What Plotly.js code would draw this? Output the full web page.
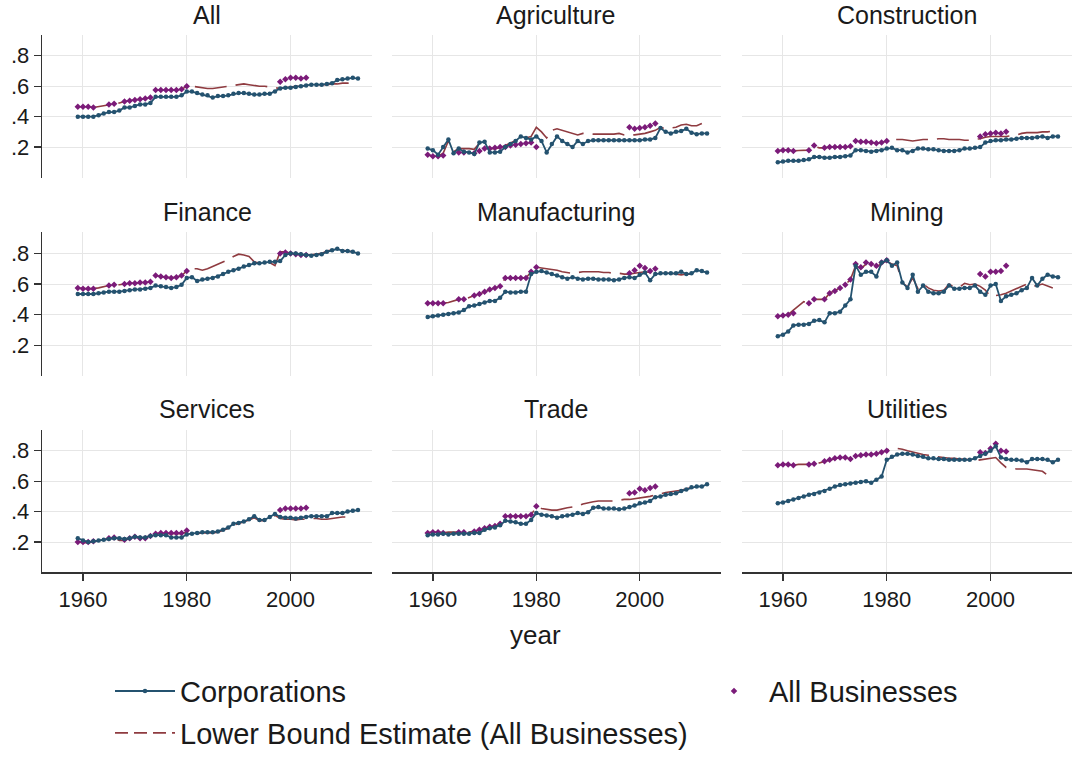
<!DOCTYPE html>
<html>
<head>
<meta charset="utf-8">
<script src="https://cdn.plot.ly/plotly-3.0.1.min.js"></script>
<style>
  html, body { margin: 0; padding: 0; background: #ffffff; }
  #chart { width: 1080px; height: 759px; }
</style>
</head>
<body>
<div id="chart"></div>
<script>
// Year helpers
function span(a, b) { const out = []; for (let y = a; y <= b; y++) out.push(y); return out; }

const sectors = ['All', 'Agriculture', 'Construction', 'Finance', 'Manufacturing', 'Mining', 'Services', 'Trade', 'Utilities'];

// Corporations: 1959-2013
const corpYears = span(1959, 2013);
// Lower bound estimate: 1959-2012
const lbYears = span(1959, 2012);
// All businesses: years with observations
const abYears = [1959, 1960, 1961, 1962, 1965, 1966, 1968, 1969, 1970, 1971, 1972, 1973, 1974, 1975, 1976, 1977, 1978, 1979, 1980, 1998, 1999, 2000, 2001, 2002, 2003];

const corpAll = [0.40,0.40,0.40,0.40,0.41,0.42,0.43,0.43,0.44,0.46,0.46,0.47,0.48,0.48,0.49,0.53,0.53,0.53,0.53,0.53,0.54,0.565,0.565,0.555,0.545,0.54,0.525,0.535,0.535,0.54,0.55,0.555,0.555,0.55,0.545,0.545,0.55,0.55,0.565,0.585,0.59,0.59,0.595,0.60,0.605,0.61,0.61,0.61,0.615,0.62,0.64,0.645,0.65,0.655,0.65];
const corpAgriculture = [0.19,0.18,0.15,0.20,0.25,0.16,0.19,0.17,0.165,0.155,0.23,0.235,0.165,0.165,0.17,0.20,0.22,0.24,0.27,0.26,0.25,0.27,0.24,0.165,0.22,0.27,0.24,0.22,0.20,0.24,0.22,0.24,0.245,0.245,0.245,0.245,0.245,0.245,0.245,0.245,0.245,0.245,0.25,0.25,0.26,0.325,0.30,0.29,0.30,0.305,0.32,0.295,0.285,0.29,0.29];
const corpConstruction = [0.10,0.105,0.11,0.11,0.11,0.115,0.12,0.135,0.135,0.13,0.13,0.135,0.135,0.14,0.145,0.18,0.18,0.175,0.17,0.175,0.18,0.19,0.195,0.18,0.18,0.165,0.175,0.19,0.19,0.185,0.185,0.18,0.175,0.175,0.175,0.18,0.19,0.19,0.195,0.20,0.23,0.24,0.245,0.245,0.25,0.25,0.255,0.26,0.26,0.26,0.265,0.27,0.26,0.27,0.27];
const corpFinance = [0.535,0.535,0.535,0.535,0.54,0.545,0.55,0.55,0.55,0.555,0.56,0.565,0.565,0.57,0.575,0.59,0.585,0.58,0.575,0.58,0.595,0.64,0.645,0.62,0.63,0.635,0.64,0.65,0.665,0.68,0.69,0.70,0.715,0.725,0.735,0.735,0.74,0.745,0.745,0.75,0.79,0.80,0.80,0.795,0.79,0.785,0.79,0.795,0.81,0.82,0.83,0.815,0.815,0.81,0.80];
const corpManufacturing = [0.385,0.39,0.395,0.40,0.405,0.41,0.415,0.43,0.455,0.46,0.47,0.48,0.49,0.49,0.51,0.55,0.545,0.545,0.55,0.55,0.665,0.68,0.685,0.675,0.665,0.655,0.645,0.635,0.645,0.635,0.63,0.635,0.635,0.63,0.63,0.63,0.625,0.63,0.64,0.645,0.64,0.66,0.675,0.625,0.665,0.67,0.67,0.67,0.67,0.68,0.665,0.67,0.69,0.685,0.675];
const corpMining = [0.26,0.27,0.29,0.33,0.335,0.335,0.34,0.36,0.365,0.35,0.41,0.41,0.42,0.46,0.50,0.72,0.66,0.68,0.68,0.65,0.74,0.755,0.72,0.74,0.61,0.575,0.66,0.55,0.59,0.55,0.54,0.54,0.55,0.59,0.57,0.57,0.575,0.575,0.59,0.55,0.53,0.59,0.60,0.49,0.52,0.53,0.54,0.56,0.575,0.64,0.59,0.635,0.66,0.65,0.645];
const corpServices = [0.225,0.21,0.20,0.205,0.21,0.215,0.22,0.225,0.225,0.22,0.225,0.235,0.23,0.23,0.24,0.245,0.245,0.245,0.23,0.23,0.23,0.25,0.255,0.26,0.265,0.265,0.265,0.27,0.28,0.295,0.32,0.325,0.335,0.35,0.37,0.345,0.345,0.365,0.385,0.365,0.36,0.36,0.355,0.36,0.365,0.37,0.37,0.37,0.37,0.39,0.39,0.39,0.40,0.405,0.41];
const corpTrade = [0.245,0.25,0.25,0.255,0.25,0.255,0.255,0.255,0.255,0.26,0.26,0.28,0.29,0.295,0.31,0.34,0.335,0.33,0.32,0.32,0.345,0.39,0.38,0.375,0.37,0.36,0.37,0.375,0.38,0.39,0.385,0.395,0.425,0.43,0.42,0.42,0.42,0.415,0.42,0.43,0.44,0.455,0.46,0.47,0.495,0.50,0.51,0.515,0.52,0.535,0.545,0.56,0.565,0.565,0.58];
const corpUtilities = [0.455,0.46,0.47,0.48,0.49,0.50,0.51,0.515,0.525,0.535,0.55,0.565,0.575,0.58,0.585,0.59,0.595,0.60,0.59,0.61,0.63,0.74,0.76,0.775,0.78,0.78,0.775,0.765,0.76,0.75,0.75,0.745,0.745,0.74,0.74,0.74,0.74,0.74,0.75,0.765,0.78,0.80,0.83,0.755,0.745,0.74,0.74,0.735,0.725,0.745,0.745,0.745,0.74,0.725,0.74];

const lbAll = [0.465,0.465,0.465,0.46,0.465,0.47,0.48,0.485,0.49,0.50,0.505,0.51,0.515,0.52,0.525,0.575,0.575,0.575,0.575,0.575,0.58,0.60,0.60,0.595,0.59,0.585,0.585,0.59,0.595,0.60,0.605,0.61,0.615,0.61,0.605,0.60,0.60,0.595,0.59,0.585,0.59,0.595,0.60,0.60,0.605,0.61,0.61,0.61,0.61,0.615,0.615,0.62,0.62,0.615];
const lbAgriculture = [0.15,0.14,0.14,0.16,0.24,0.17,0.19,0.19,0.19,0.185,0.225,0.23,0.19,0.19,0.195,0.21,0.225,0.24,0.26,0.26,0.27,0.33,0.30,0.26,0.31,0.32,0.31,0.30,0.285,0.28,0.29,0.29,0.285,0.285,0.285,0.285,0.285,0.29,0.28,0.28,0.28,0.285,0.29,0.30,0.31,0.33,0.32,0.325,0.33,0.345,0.35,0.34,0.34,0.355];
const lbConstruction = [0.175,0.18,0.18,0.175,0.178,0.18,0.18,0.205,0.195,0.195,0.20,0.20,0.20,0.20,0.205,0.24,0.235,0.235,0.23,0.225,0.23,0.24,0.25,0.25,0.25,0.245,0.24,0.245,0.25,0.25,0.25,0.255,0.255,0.25,0.25,0.25,0.245,0.245,0.25,0.255,0.265,0.27,0.27,0.27,0.27,0.275,0.28,0.29,0.295,0.295,0.295,0.30,0.30,0.305];
const lbFinance = [0.575,0.57,0.57,0.57,0.575,0.585,0.59,0.595,0.595,0.60,0.605,0.605,0.61,0.61,0.615,0.655,0.65,0.645,0.64,0.645,0.655,0.685,0.70,0.70,0.69,0.70,0.715,0.725,0.74,0.76,0.78,0.795,0.79,0.78,0.745,0.735,0.74,0.74,0.72,0.81,0.81,0.80,0.80,0.79,0.79,0.79,0.795,0.80,0.815,0.825,0.83,0.82,0.815,0.81];
const lbManufacturing = [0.475,0.475,0.475,0.475,0.48,0.49,0.50,0.50,0.515,0.525,0.535,0.55,0.565,0.575,0.585,0.64,0.64,0.64,0.64,0.64,0.68,0.71,0.705,0.70,0.695,0.69,0.68,0.675,0.67,0.675,0.68,0.68,0.68,0.68,0.675,0.675,0.67,0.67,0.665,0.665,0.67,0.675,0.68,0.675,0.68,0.67,0.67,0.67,0.665,0.66,0.665,0.665,0.675,0.68];
const lbMining = [0.39,0.395,0.40,0.43,0.46,0.485,0.475,0.50,0.50,0.50,0.54,0.555,0.575,0.595,0.63,0.72,0.70,0.73,0.72,0.71,0.735,0.75,0.73,0.72,0.61,0.58,0.64,0.57,0.60,0.575,0.56,0.555,0.56,0.60,0.58,0.58,0.605,0.595,0.60,0.585,0.56,0.52,0.525,0.53,0.54,0.555,0.565,0.58,0.60,0.585,0.59,0.60,0.585,0.575];
const lbServices = [0.20,0.195,0.195,0.20,0.21,0.215,0.225,0.23,0.21,0.21,0.225,0.235,0.225,0.225,0.24,0.255,0.255,0.255,0.255,0.255,0.255,0.265,0.25,0.255,0.26,0.26,0.26,0.265,0.275,0.29,0.31,0.32,0.33,0.345,0.36,0.34,0.34,0.355,0.375,0.355,0.35,0.35,0.345,0.35,0.35,0.355,0.355,0.35,0.35,0.355,0.36,0.365,0.365,0.365];
const lbTrade = [0.26,0.265,0.265,0.26,0.265,0.265,0.265,0.265,0.265,0.27,0.28,0.29,0.30,0.305,0.32,0.37,0.37,0.37,0.37,0.37,0.38,0.43,0.42,0.415,0.41,0.41,0.42,0.425,0.43,0.435,0.45,0.46,0.465,0.47,0.47,0.47,0.47,0.475,0.48,0.48,0.485,0.49,0.495,0.50,0.51,0.52,0.525,0.53,0.535,0.54,0.55,0.56,0.565,0.57];
const lbUtilities = [0.705,0.71,0.71,0.705,0.71,0.71,0.71,0.715,0.72,0.73,0.74,0.75,0.755,0.755,0.745,0.765,0.77,0.775,0.775,0.78,0.79,0.80,0.815,0.815,0.81,0.80,0.79,0.78,0.775,0.77,0.765,0.76,0.755,0.75,0.75,0.745,0.745,0.74,0.735,0.74,0.745,0.75,0.755,0.72,0.69,0.685,0.68,0.68,0.68,0.675,0.67,0.665,0.64,0.625];

const abAll = [0.465,0.465,0.465,0.46,0.48,0.485,0.50,0.505,0.51,0.515,0.52,0.525,0.575,0.575,0.575,0.575,0.575,0.58,0.60,0.63,0.645,0.655,0.655,0.65,0.655];
const abAgriculture = [0.15,0.14,0.14,0.145,0.165,0.165,0.16,0.175,0.19,0.19,0.195,0.20,0.20,0.21,0.215,0.22,0.225,0.23,0.20,0.33,0.32,0.325,0.33,0.34,0.355];
const abConstruction = [0.175,0.18,0.18,0.175,0.18,0.21,0.195,0.20,0.20,0.20,0.20,0.205,0.24,0.235,0.235,0.23,0.225,0.23,0.24,0.27,0.285,0.29,0.295,0.29,0.30];
const abFinance = [0.575,0.57,0.57,0.57,0.59,0.595,0.60,0.605,0.605,0.61,0.61,0.615,0.655,0.65,0.645,0.64,0.645,0.655,0.685,0.80,0.805,0.80,0.795,0.79,0.79];
const abManufacturing = [0.475,0.475,0.475,0.475,0.50,0.50,0.525,0.535,0.55,0.565,0.575,0.585,0.64,0.64,0.64,0.64,0.64,0.68,0.71,0.67,0.69,0.72,0.705,0.685,0.70];
const abMining = [0.39,0.395,0.40,0.41,0.475,0.50,0.50,0.54,0.555,0.575,0.595,0.63,0.73,0.71,0.74,0.73,0.72,0.74,0.755,0.665,0.65,0.68,0.68,0.685,0.72];
const abServices = [0.20,0.20,0.20,0.205,0.225,0.23,0.215,0.225,0.235,0.225,0.225,0.24,0.255,0.26,0.26,0.26,0.26,0.26,0.275,0.41,0.42,0.42,0.42,0.42,0.425];
const abTrade = [0.26,0.265,0.265,0.26,0.265,0.265,0.27,0.28,0.29,0.30,0.305,0.32,0.37,0.37,0.37,0.37,0.37,0.38,0.435,0.52,0.525,0.55,0.54,0.555,0.565];
const abUtilities = [0.705,0.71,0.71,0.705,0.71,0.715,0.73,0.74,0.75,0.755,0.755,0.745,0.765,0.77,0.775,0.775,0.78,0.79,0.80,0.79,0.785,0.815,0.845,0.80,0.795];

const corpSeries = [corpAll, corpAgriculture, corpConstruction, corpFinance, corpManufacturing, corpMining, corpServices, corpTrade, corpUtilities];
const lbSeries = [lbAll, lbAgriculture, lbConstruction, lbFinance, lbManufacturing, lbMining, lbServices, lbTrade, lbUtilities];
const abSeries = [abAll, abAgriculture, abConstruction, abFinance, abManufacturing, abMining, abServices, abTrade, abUtilities];

const yTickVals = [0.2, 0.4, 0.6, 0.8];
const yTickText = ['.2', '.4', '.6', '.8'];
const xTickVals = [1960, 1980, 2000];

// Styling
const W = 1080, H = 759;
const NAVY = '#24526f', MAROON = '#8f3b40', PURPLE = '#7b1b79';
const GRID = '#e6e6e6', AXIS = '#333333', INK = '#1a1a1a';
const FONT = '"Liberation Sans", Arial, Helvetica, sans-serif';
const colPx = [[42, 372], [392, 721], [742, 1072]];
const rowPx = [[35, 178], [233, 377], [431, 574]];
const titleY = [15, 213, 410];

const traces = [];
const layout = {
  width: W, height: H,
  margin: { l: 0, r: 0, t: 0, b: 0 },
  paper_bgcolor: '#ffffff', plot_bgcolor: '#ffffff',
  font: { family: FONT, color: INK },
  showlegend: true,
  annotations: []
};

sectors.forEach((name, i) => {
  const r = Math.floor(i / 3), c = i % 3;
  const n = i + 1;
  const xa = 'x' + (n === 1 ? '' : n), ya = 'y' + (n === 1 ? '' : n);
  const xKey = 'xaxis' + (n === 1 ? '' : n), yKey = 'yaxis' + (n === 1 ? '' : n);
  const bottom = r === 2, left = c === 0;

  layout[xKey] = {
    domain: [colPx[c][0] / W, colPx[c][1] / W],
    range: [1952.1, 2015.7],
    anchor: ya,
    tickmode: 'array', tickvals: xTickVals,
    showgrid: true, gridcolor: GRID, gridwidth: 1, zeroline: false,
    showline: bottom, linecolor: AXIS, linewidth: 1.3,
    ticks: bottom ? 'outside' : '', ticklen: 7, tickcolor: AXIS, tickwidth: 1.3,
    showticklabels: bottom, tickfont: { size: 22, color: INK },
    fixedrange: true
  };
  layout[yKey] = {
    domain: [1 - rowPx[r][1] / H, 1 - rowPx[r][0] / H],
    range: [0, 0.937],
    anchor: xa,
    tickmode: 'array', tickvals: yTickVals, ticktext: yTickText,
    showgrid: true, gridcolor: GRID, gridwidth: 1, zeroline: false,
    showline: left, linecolor: AXIS, linewidth: 1.3,
    ticks: left ? 'outside' : '', ticklen: 7, tickcolor: AXIS, tickwidth: 1.3,
    showticklabels: left, tickfont: { size: 22, color: INK },
    fixedrange: true
  };

  layout.annotations.push({
    text: name, xref: 'paper', yref: 'paper',
    x: (colPx[c][0] + colPx[c][1]) / 2 / W, y: 1 - titleY[r] / H,
    xanchor: 'center', yanchor: 'middle', showarrow: false,
    font: { size: 25, color: INK }
  });

  traces.push({
    type: 'scatter', mode: 'lines', x: lbYears, y: lbSeries[i],
    xaxis: xa, yaxis: ya, name: 'Lower Bound Estimate (All Businesses)',
    line: { color: MAROON, width: 1.6, dash: '32px,9px' },
    showlegend: false, hoverinfo: 'skip'
  });
  traces.push({
    type: 'scatter', mode: 'markers', x: abYears, y: abSeries[i],
    xaxis: xa, yaxis: ya, name: 'All Businesses',
    marker: { color: PURPLE, symbol: 'diamond', size: 5 },
    legend: 'legend2', showlegend: i === 0, hoverinfo: 'skip'
  });
  traces.push({
    type: 'scatter', mode: 'lines+markers', x: corpYears, y: corpSeries[i],
    xaxis: xa, yaxis: ya, name: 'Corporations',
    line: { color: NAVY, width: 1.8 },
    marker: { color: NAVY, size: 4.5, symbol: 'circle' },
    legend: 'legend', showlegend: i === 0, hoverinfo: 'skip'
  });
});

// Legend key for the dashed lower-bound series
traces.push({
  type: 'scatter', mode: 'lines', x: [null], y: [null],
  xaxis: 'x', yaxis: 'y', name: 'Lower Bound Estimate (All Businesses)',
  line: { color: MAROON, width: 1.8, dash: '13px,6px' },
  legend: 'legend3', showlegend: true, hoverinfo: 'skip'
});

layout.annotations.push({
  text: 'year', xref: 'paper', yref: 'paper',
  x: 535 / W, y: 1 - 637 / H, xanchor: 'center', yanchor: 'middle',
  showarrow: false, font: { size: 26, color: INK }
});

const legendBase = {
  xref: 'paper', yref: 'paper', xanchor: 'left', yanchor: 'middle',
  orientation: 'v', bgcolor: 'rgba(0,0,0,0)', borderwidth: 0,
  itemwidth: 60,
  font: { size: 29, color: INK, family: FONT }
};
layout.legend = Object.assign({}, legendBase, { x: 110 / W, y: 1 - 693 / H });
layout.legend2 = Object.assign({}, legendBase, { x: 699 / W, y: 1 - 693 / H });
layout.legend3 = Object.assign({}, legendBase, { x: 110 / W, y: 1 - 735 / H });

Plotly.newPlot('chart', traces, layout, { displayModeBar: false, staticPlot: true });
</script>
</body>
</html>
